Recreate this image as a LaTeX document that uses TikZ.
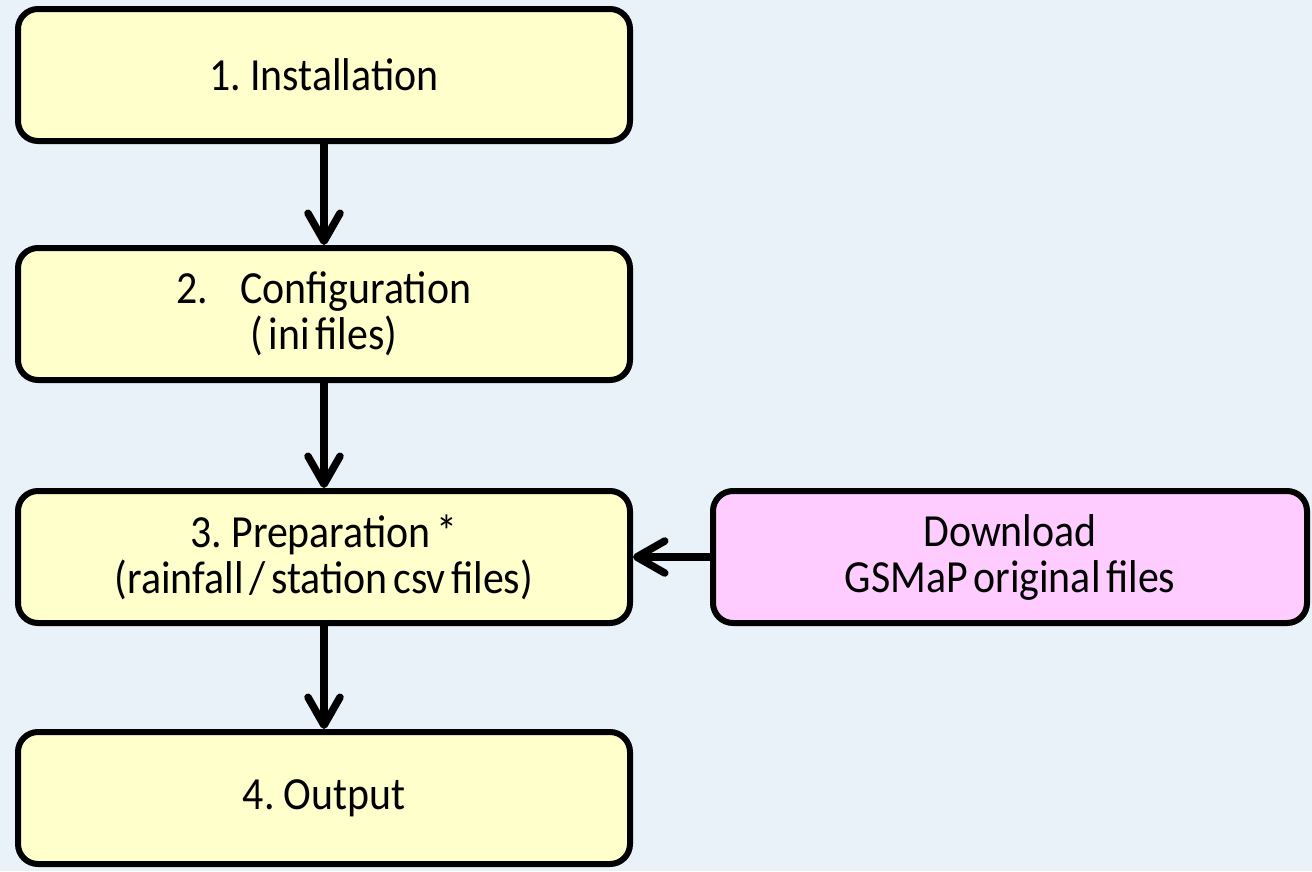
\documentclass[tikz,border=0pt]{standalone}
\usepackage{fontspec}
\setmainfont{Carlito}[FakeStretch=0.91, WordSpace=0.6]
\usetikzlibrary{arrows.meta}
\definecolor{bgblue}{RGB}{232,242,248}
\definecolor{boxyellow}{RGB}{255,255,204}
\definecolor{boxpink}{RGB}{255,204,255}
\begin{document}
\begin{tikzpicture}[x=1pt,y=-1pt,
  stepbox/.style={draw=black, line width=6pt, rounded corners=20pt, fill=boxyellow,
    minimum width=612pt, minimum height=132pt, align=center, inner sep=0pt,
    font=\fontsize{46}{46}\selectfont},
  pinkbox/.style={stepbox, fill=boxpink, minimum width=594pt},
  flow/.style={line width=7.5pt, -{Straight Barb[length=28pt, width=32pt, line width=7.5pt, line cap=round, line join=round]}}]
\fill[bgblue] (0,0) rectangle (1312,871);
\useasboundingbox (0,0) rectangle (1312,871);
\node[stepbox] (s1) at (324,75) {1. Installation};
\node[stepbox] (s2) at (324,314) {2.\hspace{32pt}Configuration\\( ini files)};
\node[stepbox] (s3) at (324,557) {3. Preparation *\\(rainfall / station csv files)};
\node[stepbox] (s4) at (324,798) {4. Output};
\node[pinkbox] (dl) at (1010,557) {Download\\GSMaP original files};
\draw[flow] (s1.south) -- (s2.north);
\draw[flow] (s2.south) -- (s3.north);
\draw[flow] (s3.south) -- (s4.north);
\draw[flow] (dl.west) -- (s3.east);
\end{tikzpicture}
\end{document}
